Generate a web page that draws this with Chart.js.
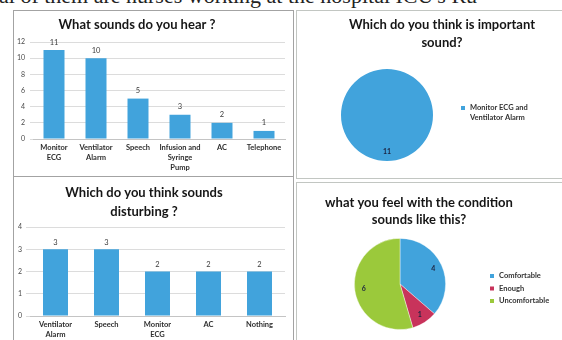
<!DOCTYPE html>
<html>
<head>
<meta charset="utf-8">
<script src="https://cdn.jsdelivr.net/npm/chart.js@4/dist/chart.umd.min.js"></script>
<style>
  html, body { margin: 0; padding: 0; background: #ffffff; }
  body { width: 562px; height: 340px; position: relative; overflow: hidden; }
  .caption {
    position: absolute; left: -1px; top: -15px; white-space: nowrap;
    font-family: "Liberation Serif", serif; font-size: 22px; line-height: 22px; color: #222;
  }
  .panel { position: absolute; box-sizing: border-box; border: 1px solid #a3a3a3; background: #fff; }
  .panel.right { border-color: #c2c6c2; }
  .panel canvas { position: absolute; left: 0; top: 0; }
</style>
</head>
<body>
<div class="caption">al of them are nurses working at the hospital ICU's Ru</div>

<div class="panel" style="left:13px; top:10px; width:281px; height:167px;"><canvas id="hear" width="279" height="165"></canvas></div>
<div class="panel right" style="left:296px; top:10px; width:300px; height:169px;"><canvas id="important" width="265" height="167"></canvas></div>
<div class="panel" style="left:13px; top:176px; width:281px; height:200px;"><canvas id="disturb" width="279" height="163"></canvas></div>
<div class="panel right" style="left:296px; top:182px; width:300px; height:200px;"><canvas id="feel" width="265" height="157"></canvas></div>

<script>
// ---- survey answers ----
const hearTitle = ['What sounds do you hear ?'];
const hearCategories = [['Monitor', 'ECG'], ['Ventilator', 'Alarm'], 'Speech', ['Infusion and', 'Syringe', 'Pump'], 'AC', 'Telephone'];
const hearCounts = [11, 10, 5, 3, 2, 1];
const hearTicks = [0, 2, 4, 6, 8, 10, 12];

const importantTitle = ['Which do you think is important', 'sound?'];
const importantLabels = [['Monitor ECG and', 'Ventilator Alarm']];
const importantCounts = [11];

const disturbTitle = ['Which do you think sounds', 'disturbing ?'];
const disturbCategories = [['Ventilator', 'Alarm'], 'Speech', ['Monitor', 'ECG'], 'AC', 'Nothing'];
const disturbCounts = [3, 3, 2, 2, 2];
const disturbTicks = [0, 1, 2, 3, 4];

const feelTitle = ['what you feel with the condition', 'sounds like this?'];
const feelLabels = ['Comfortable', 'Enough', 'Uncomfortable'];
const feelCounts = [4, 1, 6];

// ---- styling ----
const BLUE = '#41a3dc';
const RED = '#c8335b';
const GREEN = '#9bc93b';
const FONT = 'Lato, "Liberation Sans", sans-serif';
const TITLE_FONT = 'bold 13px ' + FONT;

// Draws a chart heading and (optionally) a pie legend at fixed spots in the canvas.
function panelText(cfg) {
  return {
    id: 'panelText',
    afterDraw(chart) {
      const ctx = chart.ctx;
      ctx.save();
      ctx.font = TITLE_FONT;
      ctx.fillStyle = '#161616';
      ctx.textAlign = 'center';
      ctx.textBaseline = 'middle';
      cfg.title.forEach((line, i) => ctx.fillText(line, cfg.titleX, cfg.titleY + i * cfg.titleGap));
      if (cfg.legend) {
        const lg = cfg.legend;
        const colors = chart.data.datasets[0].backgroundColor;
        ctx.font = 'bold 7.5px ' + FONT;
        ctx.textAlign = 'left';
        let y = lg.y;
        chart.data.labels.forEach((label, i) => {
          const lines = Array.isArray(label) ? label : [label];
          ctx.fillStyle = colors[i];
          ctx.fillRect(lg.x - 2, y - 2, 4, 4);
          ctx.fillStyle = '#333';
          lines.forEach((t, k) => ctx.fillText(t, lg.x + 7, y + k * lg.lineGap));
          y += lines.length * lg.lineGap + lg.itemGap;
        });
      }
      ctx.restore();
    }
  };
}

// Writes each data value above its bar or inside its slice.
function valueLabels(cfg) {
  return {
    id: 'valueLabels',
    afterDatasetsDraw(chart) {
      const ctx = chart.ctx;
      const meta = chart.getDatasetMeta(0);
      const data = chart.data.datasets[0].data;
      ctx.save();
      ctx.font = cfg.font;
      ctx.fillStyle = cfg.color;
      ctx.textAlign = 'center';
      ctx.textBaseline = 'middle';
      meta.data.forEach((el, i) => {
        let x, y;
        if (cfg.pie) {
          const mid = (el.startAngle + el.endAngle) / 2;
          const r = el.outerRadius * cfg.radial;
          x = el.x + Math.cos(mid) * r;
          y = el.y + Math.sin(mid) * r;
        } else {
          x = el.x;
          y = el.y - cfg.offset;
        }
        ctx.fillText(String(data[i]), x, y);
      });
      ctx.restore();
    }
  };
}

function barChart(id, opts) {
  return new Chart(document.getElementById(id), {
    type: 'bar',
    data: {
      labels: opts.labels,
      datasets: [{ data: opts.values, backgroundColor: BLUE, barPercentage: opts.barFrac, categoryPercentage: 1 }]
    },
    options: {
      responsive: false,
      animation: false,
      events: [],
      layout: { padding: { left: 0, right: opts.right, top: opts.top, bottom: 0 } },
      plugins: { legend: { display: false }, tooltip: { enabled: false }, title: { display: false } },
      scales: {
        x: {
          grid: { display: false, drawTicks: false, tickLength: 0 },
          border: { color: '#c4c4c4' },
          ticks: { font: { family: FONT, weight: 'bold', size: 7.5, lineHeight: 1.3 }, color: '#2e2e2e', padding: 4, maxRotation: 0, autoSkip: false },
          afterFit(s) { s.height = opts.xHeight; }
        },
        y: {
          min: 0,
          max: opts.ticks[opts.ticks.length - 1],
          border: { display: false },
          grid: { color: '#dcdcdc', tickLength: opts.tickLen },
          ticks: { font: { family: FONT, size: 7 }, color: '#4a4a4a', padding: opts.tickPad },
          afterBuildTicks(s) { s.ticks = opts.ticks.map(v => ({ value: v })); },
          afterFit(s) { s.width = opts.yWidth; }
        }
      }
    },
    plugins: [
      panelText({ title: opts.title, titleX: opts.titleX, titleY: opts.titleY, titleGap: 19 }),
      valueLabels({ font: '7.5px ' + FONT, color: '#3a3a3a', offset: opts.valueOffset })
    ]
  });
}

function pieChart(id, opts) {
  return new Chart(document.getElementById(id), {
    type: 'pie',
    data: {
      labels: opts.labels,
      datasets: [{ data: opts.values, backgroundColor: opts.colors, borderColor: 'rgba(255,255,255,0.5)', borderWidth: opts.border }]
    },
    options: {
      responsive: false,
      animation: false,
      events: [],
      layout: { padding: opts.padding },
      plugins: { legend: { display: false }, tooltip: { enabled: false }, title: { display: false } }
    },
    plugins: [
      panelText({ title: opts.title, titleX: opts.titleX, titleY: opts.titleY, titleGap: opts.titleGap, legend: opts.legend }),
      valueLabels({ font: 'bold 7px ' + FONT, color: '#1c2340', pie: true, radial: 0.8 })
    ]
  });
}

barChart('hear', {
  labels: hearCategories, values: hearCounts, ticks: hearTicks, barFrac: 0.5,
  title: hearTitle, titleX: 123, titleY: 14,
  top: 31, right: 8, xHeight: 37, yWidth: 19, tickLen: 3, tickPad: 5, valueOffset: 8
});

pieChart('important', {
  labels: importantLabels, values: importantCounts, colors: [BLUE], border: 0,
  title: importantTitle, titleX: 145, titleY: 14, titleGap: 18,
  padding: { left: 44, right: 129, top: 58, bottom: 17 },
  legend: { x: 166, y: 97, lineGap: 10, itemGap: 3 }
});

barChart('disturb', {
  labels: disturbCategories, values: disturbCounts, ticks: disturbTicks, barFrac: 0.49,
  title: disturbTitle, titleX: 130, titleY: 16,
  top: 50, right: 8, xHeight: 24, yWidth: 16, tickLen: 4, tickPad: 4, valueOffset: 7
});

pieChart('feel', {
  labels: feelLabels, values: feelCounts, colors: [BLUE, RED, GREEN], border: 0.8,
  title: feelTitle, titleX: 122, titleY: 20, titleGap: 17,
  padding: { left: 57, right: 116, top: 55, bottom: 10 },
  legend: { x: 195, y: 93, lineGap: 12.5, itemGap: 0 }
});
</script>
</body>
</html>
